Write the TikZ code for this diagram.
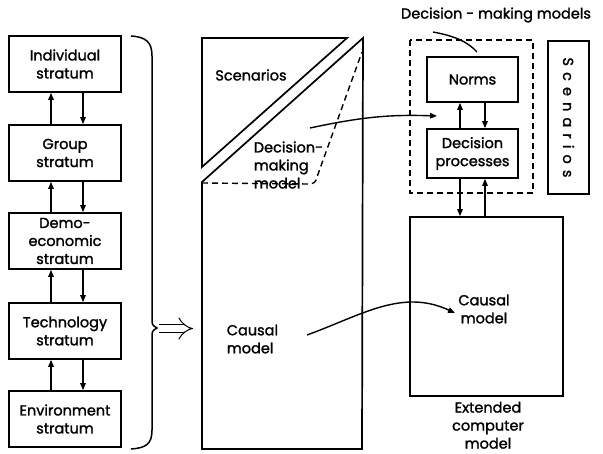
\documentclass[tikz,border=0pt]{standalone}
\usepackage{fontspec}
\newfontfamily\diagfont{Poppins}[FakeBold=1.5]
\usetikzlibrary{arrows.meta}
\begin{document}
\begin{tikzpicture}[x=1pt,y=-1pt,
  line width=1.7pt,
  box/.style={draw,rectangle,align=center,inner sep=0pt,font=\diagfont\fontsize{14.5}{18}\selectfont},
  txt/.style={align=center,inner sep=0pt,font=\diagfont\fontsize{14.5}{18}\selectfont},
  tip/.style={-{Triangle[length=7pt,width=5.5pt]}},
  link/.style={line width=1.4pt}]
\useasboundingbox (0,0) rectangle (603,454);

% strata column
\node[box,minimum width=112pt,minimum height=56pt] (ind)  at (65,64)  {Individual\\stratum};
\node[box,minimum width=112pt,minimum height=56pt] (grp)  at (65,153) {Group\\stratum};
\node[box,minimum width=112pt,minimum height=56pt] (demo) at (65,241) {Demo-\\economic\\stratum};
\node[box,minimum width=112pt,minimum height=56pt] (tech) at (65,331) {Technology\\stratum};
\node[box,minimum width=112pt,minimum height=56pt] (env)  at (65,419) {Environment\\stratum};

\foreach \lo/\hi in {grp/ind,demo/grp,tech/demo,env/tech}{
  \draw[link,tip] (\lo.north -| 51,0) -- (\hi.south -| 51,0);
  \draw[link,tip] (\hi.south -| 83,0) -- (\lo.north -| 83,0);
}

% brace
\draw[line width=1.5pt] (131,36) .. controls (146,37) and (152,42) .. (152,56)
  -- (152,318) .. controls (152,325) .. (157,328)
  .. controls (152,331) .. (152,338)
  -- (152,430) .. controls (152,444) and (146,448) .. (131,449);
\coordinate (ia) at (159,328.5);
\coordinate (ib) at (193,328.5);
\draw[line width=1pt,double,double distance=7pt,-{Implies}] (ia) -- (ib);

% middle panel
\draw (202,38) -- (347,38) -- (202,167) -- cycle;
\draw (363,38) -- (202,182) -- (202,449) -- (362,449) -- cycle;
\draw[line width=1.4pt,dash pattern=on 6pt off 4pt]
  (202,183) -- (308,184) .. controls (314,184) and (316,182) .. (317,177) -- (362,52);
\node[txt] (scn) at (251,75) {Scenarios};
\node[txt,align=left,anchor=west] (dmm) at (253,165) {Decision-\\making\\model};
\node[txt,align=left,anchor=west] (cm1) at (226,339) {Causal\\model};

% right part
\draw[line width=1.4pt,dash pattern=on 6pt off 4pt] (410,40) rectangle (533,193);
\node[txt] (dmlabel) at (496,15) {Decision - making models};
\coordinate (dmline) at (433,32);
\coordinate (dmend) at (477,52);
\draw[link] (dmline) .. controls (455,36) and (468,42) .. (dmend);

\node[box,minimum width=91pt,minimum height=45pt] (norms) at (472.5,79.5) {Norms};
\node[box,minimum width=91pt,minimum height=49pt] (dp) at (472.5,153.5) {Decision\\processes};
\node[draw,rectangle,minimum width=41pt,minimum height=153pt,inner sep=0pt] (scb) at (568.5,117.5) {};
\node[txt,rotate=-90] at (scb.center) {\addfontfeature{LetterSpace=42}Scenarios};
\node[draw,rectangle,minimum width=153pt,minimum height=179pt,inner sep=0pt] (ecm) at (486.5,306.5) {};
\node[txt] (cm2) at (484,309) {Causal\\model};
\node[txt,anchor=north] (ecmlabel) at (488,401) {Extended\\computer\\model};

\draw[link,tip] (dp.north -| 460,0) -- (norms.south -| 460,0);
\draw[link,tip] (norms.south -| 485,0) -- (dp.north -| 485,0);
\draw[link,tip] (dp.south -| 460,0) -- (ecm.north -| 460,0);
\draw[link,tip] (ecm.north -| 485,0) -- (dp.south -| 485,0);

% cross links
\coordinate (s1) at (310,128);
\coordinate (e1) at (437,116);
\draw[link,tip] (s1) to[out=12,in=178] (e1);
\coordinate (s2) at (307,335);
\coordinate (e2) at (455,313);
\draw[link,tip] (s2) to[out=20,in=155] (e2);
\end{tikzpicture}
\end{document}
